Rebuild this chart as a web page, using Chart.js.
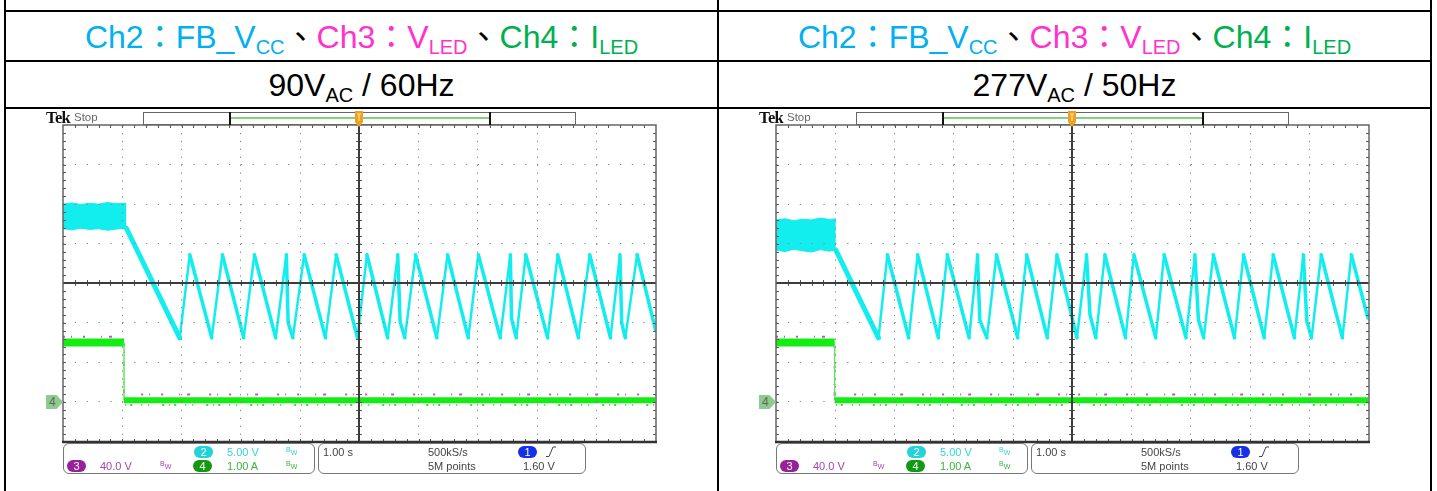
<!DOCTYPE html>
<html>
<head>
<meta charset="utf-8">
<title>FB_Vcc / V_LED / I_LED at 90 VAC and 277 VAC</title>
<script src="https://cdn.jsdelivr.net/npm/chart.js@4.4.1/dist/chart.umd.min.js"></script>
<style>
  html, body { margin:0; padding:0; background:#fff; overflow:hidden; }
  #page { position:relative; width:1437px; height:491px; font-family:"Liberation Sans", Arial, sans-serif; }
  .rule { position:absolute; background:#000; }
  .head { position:absolute; text-align:center; white-space:nowrap; font-size:32px; line-height:36px; height:36px; }
  .head sub { font-size:20px; vertical-align:-6px; line-height:0; }
  .cjk { font-family:"Noto Sans CJK TC", "Noto Sans CJK SC", sans-serif; }
  .abs { position:absolute; white-space:nowrap; }
  .tek { font-family:"Liberation Serif", serif; font-weight:bold; font-size:16.5px; line-height:16px; color:#111; letter-spacing:-0.6px; }
  .stop { font-size:11.5px; line-height:13px; color:#666; }
  .bar { border:1px solid #666; box-sizing:border-box; background:#fff; }
  .ro { font-size:11px; line-height:12px; height:12px; }
  .badge { font-size:11px; line-height:12px; height:12px; width:19px; border-radius:6px; color:#fff; text-align:center; }
  .rbox { border:1px solid #777; border-radius:6px; box-sizing:border-box; height:31px; top:443px; }
  .bw { font-size:7px; line-height:8px; }
  .mk { font-size:12px; line-height:14px; height:14px; width:17px; color:#5b6b5b; background:#8ecb8e;
        clip-path:polygon(0 0, 62% 0, 100% 50%, 62% 100%, 0 100%); text-indent:3px; }
  canvas { position:absolute; }
</style>
</head>
<body>
<div id="page">
  <!-- table rules -->
  <div class="rule" style="left:4px;top:0;width:2px;height:491px"></div>
  <div class="rule" style="left:717px;top:0;width:2px;height:491px"></div>
  <div class="rule" style="left:1430px;top:0;width:2px;height:491px"></div>
  <div class="rule" style="left:4px;top:10px;width:1428px;height:2px"></div>
  <div class="rule" style="left:4px;top:60px;width:1428px;height:2px"></div>
  <div class="rule" style="left:4px;top:107px;width:1428px;height:2px"></div>

  <!-- header rows -->
  <div class="head" style="left:6px;width:711px;top:16px">
    <span style="color:#00B0F0">Ch2<span class="cjk">：</span>FB_V<sub>CC</sub></span><span class="cjk">、</span><span style="color:#FF33CC">Ch3<span class="cjk">：</span>V<sub>LED</sub></span><span class="cjk">、</span><span style="color:#00B050">Ch4<span class="cjk">：</span>I<sub>LED</sub></span>
  </div>
  <div class="head" style="left:719px;width:711px;top:16px">
    <span style="color:#00B0F0">Ch2<span class="cjk">：</span>FB_V<sub>CC</sub></span><span class="cjk">、</span><span style="color:#FF33CC">Ch3<span class="cjk">：</span>V<sub>LED</sub></span><span class="cjk">、</span><span style="color:#00B050">Ch4<span class="cjk">：</span>I<sub>LED</sub></span>
  </div>
  <div class="head" style="left:6px;width:711px;top:67px">90V<sub>AC</sub> / 60Hz</div>
  <div class="head" style="left:719px;width:711px;top:67px">277V<sub>AC</sub> / 50Hz</div>

  <canvas id="scope90" width="605" height="329" style="left:57px;top:119px"></canvas>
  <canvas id="scope277" width="605" height="329" style="left:770px;top:119px"></canvas>
  <div id="chrome"></div>
</div>

<script>
// Horizontal: 1.00 s/div over 10 div, trigger at the centre -> seconds, -5 ... 5
// Vertical: 8 screen divisions, -4 ... 4
// Ch2 FB_Vcc is kept in screen divisions (5.00 V/div)
// Ch3 V_LED (40.0 V/div) and Ch4 I_LED (1.00 A/div) share the reference at -3 div

// ---------- 90 VAC / 60 Hz ----------
const bandTime90 = [-5, -4.85, -4.7, -4.55, -4.4, -4.25, -4.1, -3.93];
const bandHigh90 = [2.00, 2.03, 1.99, 2.02, 2.00, 2.04, 2.01, 2.02];
const bandLow90  = [1.38, 1.35, 1.39, 1.36, 1.38, 1.34, 1.37, 1.39];
const ch2Time90 = [-3.93, -3.03, -2.86, -2.49, -2.31, -1.95, -1.77, -1.41, -1.23, -1.20, -1.12,
                   -0.93, -0.57, -0.39, -0.03, 0.13, 0.48, 0.65, 0.69, 0.77, 0.95, 1.31, 1.49,
                   1.84, 2.01, 2.38, 2.55, 2.57, 2.65, 2.81, 3.18, 3.35, 3.70, 3.89, 4.24, 4.40,
                   4.43, 4.49, 4.69, 5.00];
const ch2Div90  = [1.39, -1.38, 0.72, -1.38, 0.72, -1.38, 0.72, -1.38, 0.72, -1.00, -1.38,
                   0.72, -1.38, 0.72, -1.38, 0.72, -1.38, 0.72, -0.97, -1.38, 0.72, -1.38, 0.72,
                   -1.38, 0.72, -1.38, 0.72, -0.89, -1.38, 0.72, -1.38, 0.72, -1.38, 0.72, -1.38, 0.72,
                   -1.01, -1.38, 0.72, -1.18];
const ch4Time90 = [-5, -3.97, -3.97, 5];
const ch4Amp90  = [1.50, 1.50, 0.04, 0.04];
const ch4NoiseTime90 = [-3.95, 5];
const ch4NoiseAmp90  = [-0.08, -0.08];
const ch3Time90 = [-5, -3.97, -3.97, 5];
const ch3Volt90 = [66, 66, 7.5, 7.5];

// ---------- 277 VAC / 50 Hz ----------
const bandTime277 = [-5, -4.85, -4.7, -4.55, -4.4, -4.25, -4.1, -3.99];
const bandHigh277 = [1.60, 1.63, 1.58, 1.62, 1.60, 1.65, 1.61, 1.63];
const bandLow277  = [0.84, 0.80, 0.86, 0.82, 0.79, 0.85, 0.81, 0.84];
const ch2Time277 = [-3.99, -3.27, -3.12, -2.76, -2.61, -2.26, -2.11, -1.74, -1.60, -1.56, -1.44,
                    -1.28, -0.92, -0.77, -0.42, -0.26, 0.08, 0.24, 0.30, 0.40, 0.55, 0.90, 1.04,
                    1.41, 1.55, 1.92, 2.07, 2.13, 2.22, 2.38, 2.74, 2.89, 3.24, 3.39, 3.75, 3.90,
                    3.96, 4.04, 4.20, 4.56, 4.71, 4.99];
const ch2Div277  = [0.84, -1.38, 0.72, -1.38, 0.72, -1.38, 0.72, -1.38, 0.72, -0.93, -1.38,
                    0.72, -1.38, 0.72, -1.38, 0.72, -1.38, 0.72, -0.80, -1.38, 0.72, -1.38, 0.72,
                    -1.38, 0.72, -1.38, 0.72, -0.93, -1.38, 0.72, -1.38, 0.72, -1.38, 0.72, -1.38, 0.72,
                    -0.97, -1.38, 0.72, -1.38, 0.72, -0.88];
const ch4Time277 = [-5, -4.01, -4.01, 5];
const ch4Amp277  = [1.50, 1.50, 0.04, 0.04];
const ch4NoiseTime277 = [-3.99, 5];
const ch4NoiseAmp277  = [-0.08, -0.08];
const ch3Time277 = [-5, -4.01, -4.01, 5];
const ch3Volt277 = [66, 66, 7.5, 7.5];

// ---------- channel scaling ----------
const AMP_PER_DIV = 1.0, CH3_VOLT_PER_DIV = 40.0, REF_DIV = -3;
const ch4Div = a => a / AMP_PER_DIV + REF_DIV;
const ch3Div = v => v / CH3_VOLT_PER_DIV + REF_DIV;

const CYAN = '#12EDED', GREEN = '#12EE12', MAGENTA = '#E040E0';

function pts(ts, vs, f) {
  return ts.map((t, i) => ({ x: t, y: f ? f(vs[i]) : vs[i] }));
}

// graticule: centre cross, minor ticks and frame, drawn over the traces
const graticule = {
  id: 'graticule',
  afterDraw(chart) {
    const { ctx, chartArea: a, scales: { x, y } } = chart;
    const mx = (x.getPixelForValue(1) - x.getPixelForValue(0)) / 5;
    const my = (y.getPixelForValue(0) - y.getPixelForValue(1)) / 5;
    const cx = Math.round(x.getPixelForValue(0));
    const cy = Math.round(y.getPixelForValue(0));
    const L = Math.round(a.left), R = Math.round(a.right), T = Math.round(a.top), B = Math.round(a.bottom);
    ctx.save();
    // minor ticks
    ctx.strokeStyle = '#555';
    ctx.lineWidth = 1;
    ctx.beginPath();
    for (let i = 1; i < 50; i++) {
      const px = Math.round(a.left + i * mx) + 0.5;
      ctx.moveTo(px, cy - 3); ctx.lineTo(px, cy + 3);
      ctx.moveTo(px, T); ctx.lineTo(px, T + 3);
      ctx.moveTo(px, B); ctx.lineTo(px, B - 3);
    }
    for (let j = 1; j < 40; j++) {
      const py = Math.round(a.top + j * my) + 0.5;
      ctx.moveTo(cx - 3, py); ctx.lineTo(cx + 3, py);
      ctx.moveTo(L, py); ctx.lineTo(L + 3, py);
      ctx.moveTo(R, py); ctx.lineTo(R - 3, py);
    }
    ctx.stroke();
    // centre cross
    ctx.strokeStyle = '#3c3c3c';
    ctx.lineWidth = 2;
    ctx.beginPath();
    ctx.moveTo(L, cy); ctx.lineTo(R, cy);
    ctx.moveTo(cx, T); ctx.lineTo(cx, B);
    ctx.stroke();
    // frame
    ctx.strokeStyle = '#666';
    ctx.lineWidth = 1.5;
    ctx.strokeRect(L, T, R - L, B - T);
    ctx.strokeStyle = '#333';
    ctx.lineWidth = 2.5;
    ctx.beginPath();
    ctx.moveTo(L - 1, B); ctx.lineTo(R + 1, B);
    ctx.stroke();
    ctx.restore();
  }
};

// falling ramps are drawn a little heavier than the fast rising edges
const ch2Width = c => c.p0DataIndex === 0 ? 5 : (c.p1.parsed.y > c.p0.parsed.y ? 2.5 : 3.5);

function scopeChart(id, d) {
  const canvas = document.getElementById(id);
  const minorX = 592.5 / 50, minorY = 316.5 / 40;
  return new Chart(canvas, {
    type: 'line',
    data: {
      datasets: [
        { label: 'Ch2 FB_Vcc', data: pts(d.ch2T, d.ch2V), borderColor: CYAN, borderWidth: 3,
          borderJoinStyle: 'round', borderCapStyle: 'round', order: 0,
          segment: { borderWidth: ch2Width } },
        { label: 'Ch2 envelope low', data: pts(d.bandT, d.bandLow), borderColor: CYAN, borderWidth: 1,
          fill: false, order: 1 },
        { label: 'Ch2 envelope high', data: pts(d.bandT, d.bandHigh), borderColor: CYAN, borderWidth: 1,
          backgroundColor: CYAN, fill: '-1', order: 1 },
        { label: 'Ch4 I_LED', data: pts(d.ch4T, d.ch4A, ch4Div), borderColor: GREEN, order: 2,
          borderWidth: 8,
          segment: {
            borderWidth: c => c.p0.parsed.x === c.p1.parsed.x ? 1.5 : (c.p0.parsed.y > -2 ? 8 : 6),
            borderColor: c => c.p0.parsed.x === c.p1.parsed.x ? '#5FE85F' : GREEN
          } },
        { label: 'Ch4 noise', data: pts(d.ch4NT, d.ch4NA, ch4Div), borderColor: '#3CE03C', borderWidth: 2,
          borderDash: [1, 4, 2, 9, 1, 6, 1, 13, 2, 5], order: 3 },
        { label: 'Ch3 V_LED', data: pts(d.ch3T, d.ch3V, ch3Div), borderColor: MAGENTA, borderWidth: 2,
          borderDash: [2, 6, 1, 11, 2, 16, 1, 7, 3, 19], order: 4 }
      ]
    },
    options: {
      responsive: false,
      animation: false,
      devicePixelRatio: 1,
      layout: { autoPadding: false, padding: { left: 6, top: 6, right: 6.5, bottom: 6.5 } },
      elements: { point: { radius: 0, hoverRadius: 0 }, line: { tension: 0, fill: false } },
      datasets: { line: { clip: 0 } },
      plugins: { legend: { display: false }, tooltip: { enabled: false } },
      events: [],
      scales: {
        x: { type: 'linear', min: -5, max: 5,
             ticks: { display: false, stepSize: 1 },
             grid: { color: '#8a8a8a', lineWidth: 1, drawTicks: false, z: 1 },
             border: { display: false, dash: [1.3, minorY - 1.3] } },
        y: { type: 'linear', min: -4, max: 4,
             ticks: { display: false, stepSize: 1 },
             grid: { color: '#8a8a8a', lineWidth: 1, drawTicks: false, z: 1 },
             border: { display: false, dash: [1.3, minorX - 1.3] } }
      }
    },
    plugins: [graticule]
  });
}

const scope90 = scopeChart('scope90', {
  bandT: bandTime90, bandHigh: bandHigh90, bandLow: bandLow90,
  ch2T: ch2Time90, ch2V: ch2Div90,
  ch4T: ch4Time90, ch4A: ch4Amp90, ch4NT: ch4NoiseTime90, ch4NA: ch4NoiseAmp90,
  ch3T: ch3Time90, ch3V: ch3Volt90
});
const scope277 = scopeChart('scope277', {
  bandT: bandTime277, bandHigh: bandHigh277, bandLow: bandLow277,
  ch2T: ch2Time277, ch2V: ch2Div277,
  ch4T: ch4Time277, ch4A: ch4Amp277, ch4NT: ch4NoiseTime277, ch4NA: ch4NoiseAmp277,
  ch3T: ch3Time277, ch3V: ch3Volt277
});

// ---------- instrument frame around each plot ----------
const bwMark = col => `<span style="color:${col}">B</span><span style="color:${col};position:relative;top:3px">W</span>`;

function frameHTML(ox, chart, canvasTop) {
  const refY = canvasTop + chart.scales.y.getPixelForValue(REF_DIV);
  const trigX = ox + 57 + chart.scales.x.getPixelForValue(0);
  return `
  <div class="abs tek" style="left:${46 + ox}px;top:110px">Tek</div>
  <div class="abs stop" style="left:${74 + ox}px;top:111px">Stop</div>
  <div class="abs bar" style="left:${143 + ox}px;top:112px;width:433px;height:13px"></div>
  <div class="abs" style="left:${229 + ox}px;top:112px;width:2px;height:13px;background:#111"></div>
  <div class="abs" style="left:${489 + ox}px;top:112px;width:2px;height:13px;background:#111"></div>
  <div class="abs" style="left:${231 + ox}px;top:117px;width:258px;height:2px;background:#7fd27f"></div>
  <svg class="abs" style="left:${trigX - 5}px;top:110px" width="10" height="20">
    <path d="M1 1 H9 V12 L5 17 L1 12 Z" fill="#f2a01c"/>
    <path d="M3 4 H7 M5 4 V11" stroke="#fde2ae" stroke-width="1.2" fill="none"/>
  </svg>
  <div class="abs mk" style="left:${46 + ox}px;top:${refY - 7}px">4</div>

  <div class="abs rbox" style="left:${63 + ox}px;width:252px"></div>
  <div class="abs rbox" style="left:${318 + ox}px;width:268px"></div>

  <div class="abs badge" style="left:${194 + ox}px;top:446px;background:#22d3da">2</div>
  <div class="abs ro" style="left:${227 + ox}px;top:446px;color:#35d2da">5.00 V</div>
  <div class="abs bw" style="left:${286 + ox}px;top:446px">${bwMark('#35d2da')}</div>

  <div class="abs badge" style="left:${67 + ox}px;top:460px;background:#9a1f9a">3</div>
  <div class="abs ro" style="left:${100 + ox}px;top:460px;color:#a445a4">40.0 V</div>
  <div class="abs bw" style="left:${160 + ox}px;top:460px">${bwMark('#a445a4')}</div>

  <div class="abs badge" style="left:${193 + ox}px;top:460px;background:#119a11">4</div>
  <div class="abs ro" style="left:${227 + ox}px;top:460px;color:#3cb43c">1.00 A</div>
  <div class="abs bw" style="left:${286 + ox}px;top:460px">${bwMark('#3cb43c')}</div>

  <div class="abs ro" style="left:${323 + ox}px;top:446px;color:#444">1.00 s</div>
  <div class="abs ro" style="left:${428 + ox}px;top:446px;color:#444">500kS/s</div>
  <div class="abs ro" style="left:${428 + ox}px;top:460px;color:#444">5M points</div>
  <div class="abs badge" style="left:${518 + ox}px;top:446px;background:#1530e6">1</div>
  <svg class="abs" style="left:${545 + ox}px;top:445px" width="12" height="13">
    <path d="M1 11.5 H4 L8 2 H11" stroke="#444" stroke-width="1" fill="none"/>
  </svg>
  <div class="abs ro" style="left:${523 + ox}px;top:460px;color:#444">1.60 V</div>`;
}

document.getElementById('chrome').innerHTML =
  frameHTML(0, scope90, 119) + frameHTML(713, scope277, 119);
</script>
</body>
</html>
